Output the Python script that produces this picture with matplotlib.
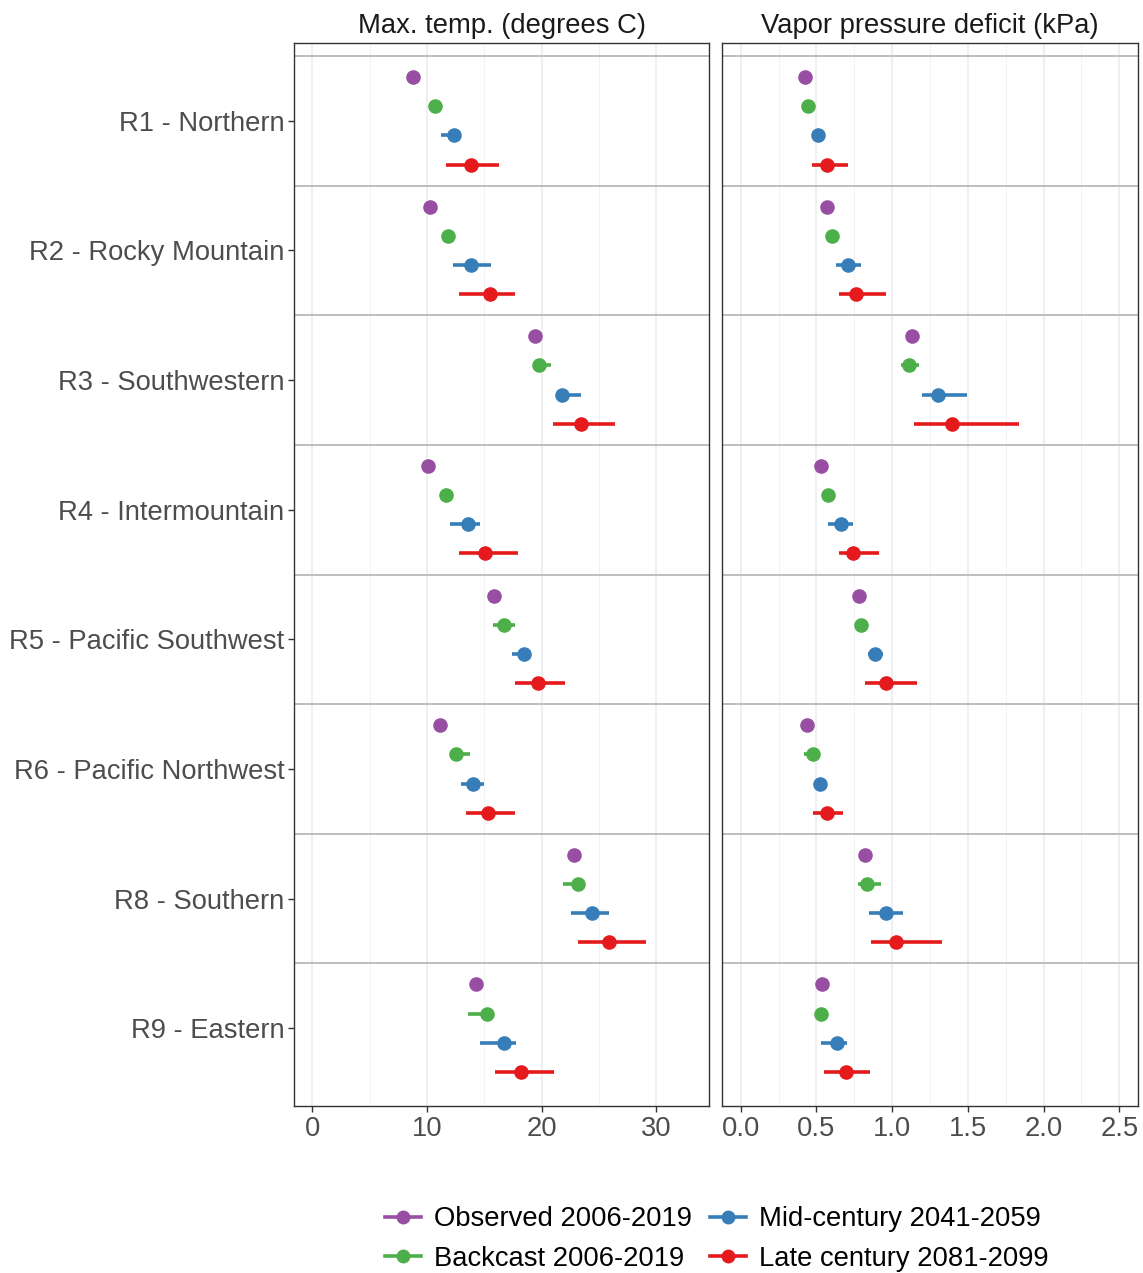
import matplotlib
matplotlib.use("Agg")
import matplotlib.pyplot as plt
from matplotlib.lines import Line2D
import numpy as np

regions = ["R1 - Northern", "R2 - Rocky Mountain", "R3 - Southwestern",
           "R4 - Intermountain", "R5 - Pacific Southwest", "R6 - Pacific Northwest",
           "R8 - Southern", "R9 - Eastern"]
series = ["Observed 2006-2019", "Backcast 2006-2019",
          "Mid-century 2041-2059", "Late century 2081-2099"]
colors = ["#984EA3", "#4DAF4A", "#377EB8", "#E41A1C"]

# max temperature (degrees C): value, lower, upper per series
tmax_obs = [8.8, 10.26, 19.42, 10.12, 15.84, 11.1, 22.79, 14.24]
tmax_back = [10.7, 11.86, 19.77, 11.7, 16.74, 12.55, 23.19, 15.2]
tmax_back_lo = [10.5, 11.6, 19.3, 11.2, 15.8, 12.1, 21.83, 13.55]
tmax_back_hi = [10.9, 12.1, 20.8, 12.2, 17.67, 13.75, 23.5, 15.4]
tmax_mid = [12.35, 13.84, 21.8, 13.55, 18.48, 13.98, 24.36, 16.69]
tmax_mid_lo = [11.2, 12.27, 21.3, 12.0, 17.44, 13.0, 22.55, 14.65]
tmax_mid_hi = [12.8, 15.58, 23.4, 14.6, 19.0, 15.0, 25.9, 17.73]
tmax_late = [13.84, 15.49, 23.43, 15.09, 19.65, 15.29, 25.9, 18.17]
tmax_late_lo = [11.7, 12.82, 21.0, 12.82, 17.7, 13.43, 23.16, 15.9]
tmax_late_hi = [16.3, 17.7, 26.37, 17.96, 22.06, 17.7, 29.07, 21.07]

# vapor pressure deficit (kPa)
vpd_obs = [0.423, 0.572, 1.131, 0.528, 0.783, 0.44, 0.823, 0.539]
vpd_back = [0.447, 0.601, 1.11, 0.577, 0.795, 0.478, 0.832, 0.532]
vpd_back_lo = [0.43, 0.59, 1.06, 0.56, 0.78, 0.42, 0.773, 0.52]
vpd_back_hi = [0.46, 0.61, 1.18, 0.59, 0.81, 0.49, 0.927, 0.545]
vpd_mid = [0.508, 0.711, 1.303, 0.662, 0.889, 0.524, 0.958, 0.638]
vpd_mid_lo = [0.49, 0.63, 1.2, 0.575, 0.839, 0.51, 0.847, 0.528]
vpd_mid_hi = [0.53, 0.795, 1.497, 0.74, 0.942, 0.54, 1.074, 0.7]
vpd_late = [0.568, 0.76, 1.393, 0.744, 0.958, 0.57, 1.026, 0.696]
vpd_late_lo = [0.473, 0.647, 1.147, 0.647, 0.823, 0.48, 0.858, 0.552]
vpd_late_hi = [0.707, 0.958, 1.84, 0.916, 1.166, 0.676, 1.33, 0.854]

panels = [
    ("Max. temp. (degrees C)", [
        (tmax_obs, None, None),
        (tmax_back, tmax_back_lo, tmax_back_hi),
        (tmax_mid, tmax_mid_lo, tmax_mid_hi),
        (tmax_late, tmax_late_lo, tmax_late_hi),
    ], (-1.6, 34.6), [0, 10, 20, 30], [5, 15, 25], lambda v: f"{v:g}"),
    ("Vapor pressure deficit (kPa)", [
        (vpd_obs, None, None),
        (vpd_back, vpd_back_lo, vpd_back_hi),
        (vpd_mid, vpd_mid_lo, vpd_mid_hi),
        (vpd_late, vpd_late_lo, vpd_late_hi),
    ], (-0.124, 2.624), [0, 0.5, 1.0, 1.5, 2.0, 2.5],
        [0.25, 0.75, 1.25, 1.75, 2.25], lambda v: f"{v:.1f}"),
]

W, H = 1143, 1273
fig = plt.figure(figsize=(W / 100, H / 100), dpi=100)
plt.rcParams["font.family"] = ["Liberation Sans", "DejaVu Sans"]

panel_px = [(294, 709), (722, 1138)]
top_px, bot_px = 43, 1106
dodge = 0.9
offsets = (np.arange(4) - 1.5) * dodge / 4
ypos = np.arange(len(regions))
fs = 19.7

for k, (title, data, xlim, xticks, xminor, fmt) in enumerate(panels):
    x0, x1 = panel_px[k]
    ax = fig.add_axes([x0 / W, 1 - bot_px / H, (x1 - x0) / W, (bot_px - top_px) / H])
    ax.set_xlim(*xlim)
    ax.set_ylim(len(regions) - 1 + 0.6, -0.6)
    for v in xticks:
        ax.axvline(v, color="#EBEBEB", lw=1.1, zorder=0)
    for v in xminor:
        ax.axvline(v, color="#F2F2F2", lw=0.7, zorder=0)
    for i in ypos:
        ax.axhline(i - 0.5, color="#BEBEBE", lw=1.4, zorder=1)
    for s, (vals, lo, hi) in enumerate(data):
        y = ypos + offsets[s]
        if lo is not None:
            ax.hlines(y, lo, hi, color=colors[s], lw=2.6, zorder=2)
        ax.plot(vals, y, "o", color=colors[s], ms=10.5, mec="none", zorder=3)
    ax.set_xticks(xticks)
    ax.set_xticklabels([fmt(v) for v in xticks])
    ax.set_yticks(ypos)
    ax.tick_params(axis="both", labelsize=fs, colors="#333333", labelcolor="#4D4D4D",
                   length=4, width=1, pad=3)
    if k == 0:
        ax.set_yticklabels(regions)
    else:
        ax.set_yticklabels([])
        ax.tick_params(axis="y", length=0)
    for sp in ax.spines.values():
        sp.set_color("#333333")
        sp.set_linewidth(1)
    ax.set_title(title, fontsize=fs, color="#1A1A1A", pad=7)

handles = [Line2D([], [], color=c, marker="o", ms=10, lw=2.6, mec="none") for c in colors]
fig.legend(handles, series, loc="center", bbox_to_anchor=(717 / W, 1 - 1239 / H),
           ncol=2, frameon=False, fontsize=fs, handlelength=1.3,
           columnspacing=0.65, handletextpad=0.5, labelspacing=0.5)

fig.savefig("out.png", dpi=100)
